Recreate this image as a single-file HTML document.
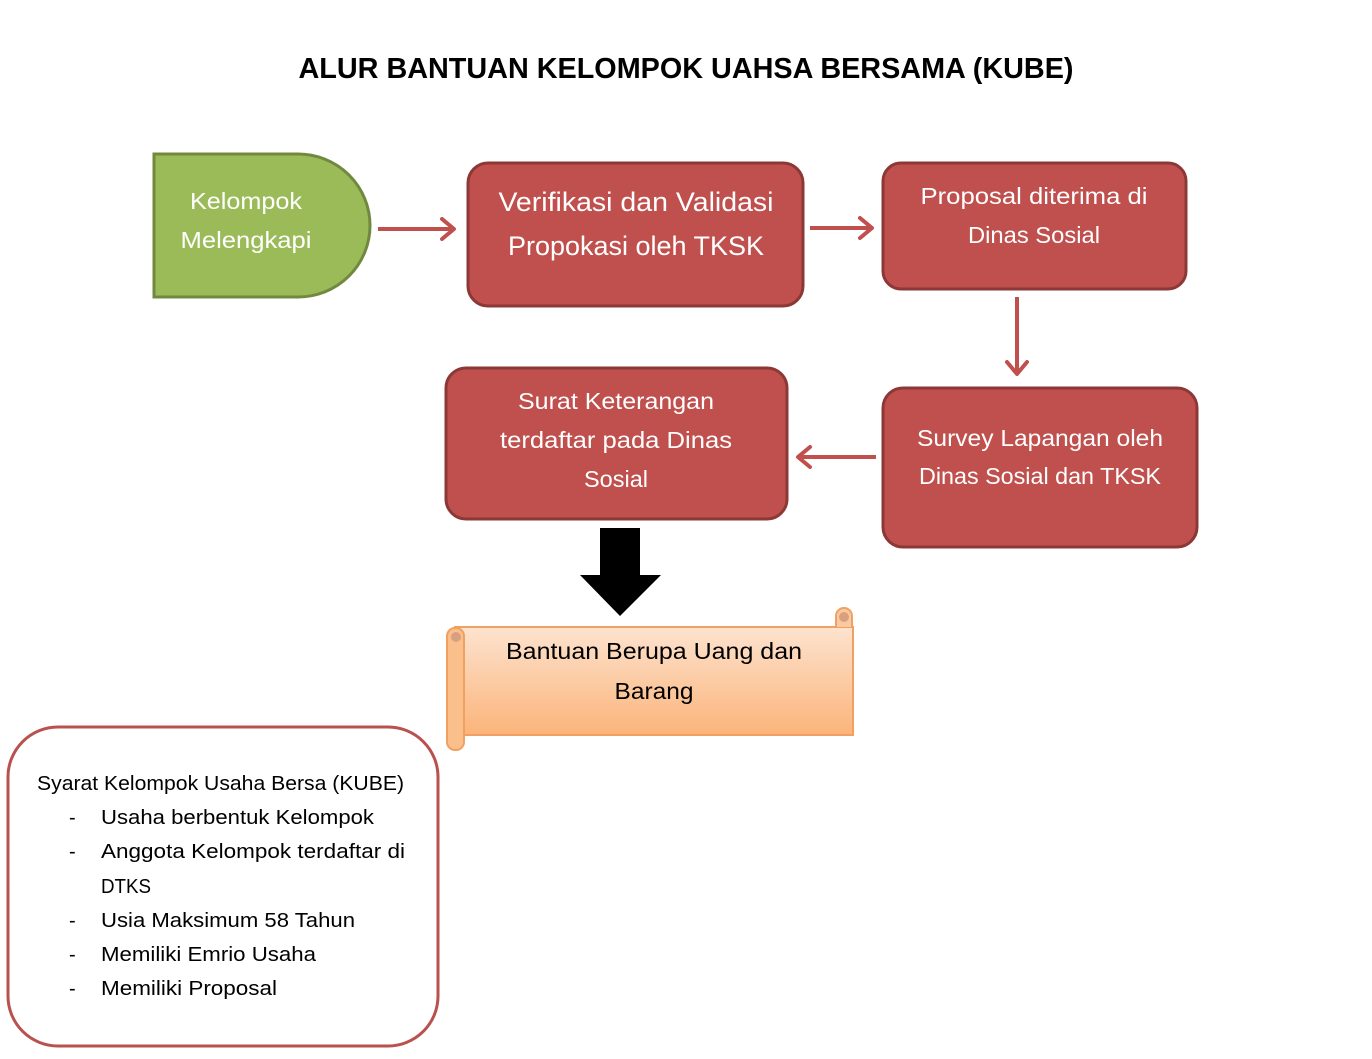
<!DOCTYPE html>
<html><head><meta charset="utf-8"><style>
html,body{margin:0;padding:0;background:#fff;}
svg{display:block;font-family:"Liberation Sans",sans-serif;}
</style></head><body>
<svg width="1372" height="1059" viewBox="0 0 1372 1059" xmlns="http://www.w3.org/2000/svg">
<defs>
<linearGradient id="og" x1="0" y1="0" x2="0" y2="1"><stop offset="0" stop-color="#fde3cf"/><stop offset="1" stop-color="#fbb47a"/></linearGradient>
<marker id="ah" markerWidth="20" markerHeight="24" refX="16" refY="12" orient="auto" markerUnits="userSpaceOnUse"><path d="M4,2 L16,12 L4,22" fill="none" stroke="#c0504d" stroke-width="4" stroke-linecap="round" stroke-linejoin="round"/></marker>
</defs>
<text x="686" y="78" text-anchor="middle" font-size="29" font-weight="bold" textLength="775" lengthAdjust="spacingAndGlyphs">ALUR BANTUAN KELOMPOK UAHSA BERSAMA (KUBE)</text>

<path d="M154,154 H298 A72,71.5 0 0 1 298,297 H154 Z" fill="#9bbb59" stroke="#71893f" stroke-width="3"/>
<g fill="#fff" font-size="23" text-anchor="middle">
<text x="246" y="209" textLength="112" lengthAdjust="spacingAndGlyphs">Kelompok</text>
<text x="246" y="248" textLength="131" lengthAdjust="spacingAndGlyphs">Melengkapi</text>
</g>

<g stroke="#c0504d" stroke-width="4" fill="none">
<line x1="378" y1="229" x2="454" y2="229" marker-end="url(#ah)"/>
<line x1="810" y1="228" x2="872" y2="228" marker-end="url(#ah)"/>
<line x1="1017" y1="297" x2="1017" y2="374" marker-end="url(#ah)"/>
<line x1="876" y1="457" x2="798" y2="457" marker-end="url(#ah)"/>
</g>

<g fill="#c0504d" stroke="#8c3836" stroke-width="3">
<rect x="468" y="163" width="335" height="143" rx="20"/>
<rect x="883" y="163" width="303" height="126" rx="18"/>
<rect x="883" y="388" width="314" height="159" rx="20"/>
<rect x="446" y="368" width="341" height="151" rx="20"/>
</g>
<g fill="#fff" text-anchor="middle">
<text x="636" y="211" font-size="27" textLength="275" lengthAdjust="spacingAndGlyphs">Verifikasi dan Validasi</text>
<text x="636" y="255" font-size="27" textLength="256" lengthAdjust="spacingAndGlyphs">Propokasi oleh TKSK</text>
<text x="1034" y="204" font-size="23" textLength="227" lengthAdjust="spacingAndGlyphs">Proposal diterima di</text>
<text x="1034" y="243" font-size="23" textLength="132" lengthAdjust="spacingAndGlyphs">Dinas Sosial</text>
<text x="1040" y="446" font-size="23" textLength="246" lengthAdjust="spacingAndGlyphs">Survey Lapangan oleh</text>
<text x="1040" y="484" font-size="23" textLength="242" lengthAdjust="spacingAndGlyphs">Dinas Sosial dan TKSK</text>
<text x="616" y="409" font-size="23" textLength="196" lengthAdjust="spacingAndGlyphs">Surat Keterangan</text>
<text x="616" y="448" font-size="23" textLength="232" lengthAdjust="spacingAndGlyphs">terdaftar pada Dinas</text>
<text x="616" y="487" font-size="23" textLength="64" lengthAdjust="spacingAndGlyphs">Sosial</text>
</g>

<path d="M600,528 H640 V575 H661 L620,616 L580,575 H600 Z" fill="#000"/>

<g stroke="#f0a060" stroke-width="2">
<rect x="455" y="627" width="398" height="108" fill="url(#og)"/>
<path d="M836,627 V616 A8,8 0 0 1 852,616 V627" fill="#fbc9a0"/>
<circle cx="844" cy="617" r="5" fill="#d9a080" stroke="none"/>
<rect x="447" y="628" width="17" height="122" rx="8" fill="#fbbf8c"/>
<circle cx="456" cy="637" r="5" fill="#d9a080" stroke="none"/>
</g>
<g fill="#000" text-anchor="middle" font-size="23">
<text x="654" y="659" textLength="296" lengthAdjust="spacingAndGlyphs">Bantuan Berupa Uang dan</text>
<text x="654" y="699" textLength="79" lengthAdjust="spacingAndGlyphs">Barang</text>
</g>

<rect x="8" y="727" width="430" height="319" rx="50" fill="#fff" stroke="#b9514f" stroke-width="3"/>
<g fill="#000" font-size="20">
<text x="37" y="790" textLength="367" lengthAdjust="spacingAndGlyphs">Syarat Kelompok Usaha Bersa (KUBE)</text>
<text x="69" y="824">-</text><text x="101" y="824" textLength="273" lengthAdjust="spacingAndGlyphs">Usaha berbentuk Kelompok</text>
<text x="69" y="858">-</text><text x="101" y="858" textLength="304" lengthAdjust="spacingAndGlyphs">Anggota Kelompok terdaftar di</text>
<text x="101" y="893" textLength="50" lengthAdjust="spacingAndGlyphs">DTKS</text>
<text x="69" y="927">-</text><text x="101" y="927" textLength="254" lengthAdjust="spacingAndGlyphs">Usia Maksimum 58 Tahun</text>
<text x="69" y="961">-</text><text x="101" y="961" textLength="215" lengthAdjust="spacingAndGlyphs">Memiliki Emrio Usaha</text>
<text x="69" y="995">-</text><text x="101" y="995" textLength="176" lengthAdjust="spacingAndGlyphs">Memiliki Proposal</text>
</g>
</svg>
</body></html>
